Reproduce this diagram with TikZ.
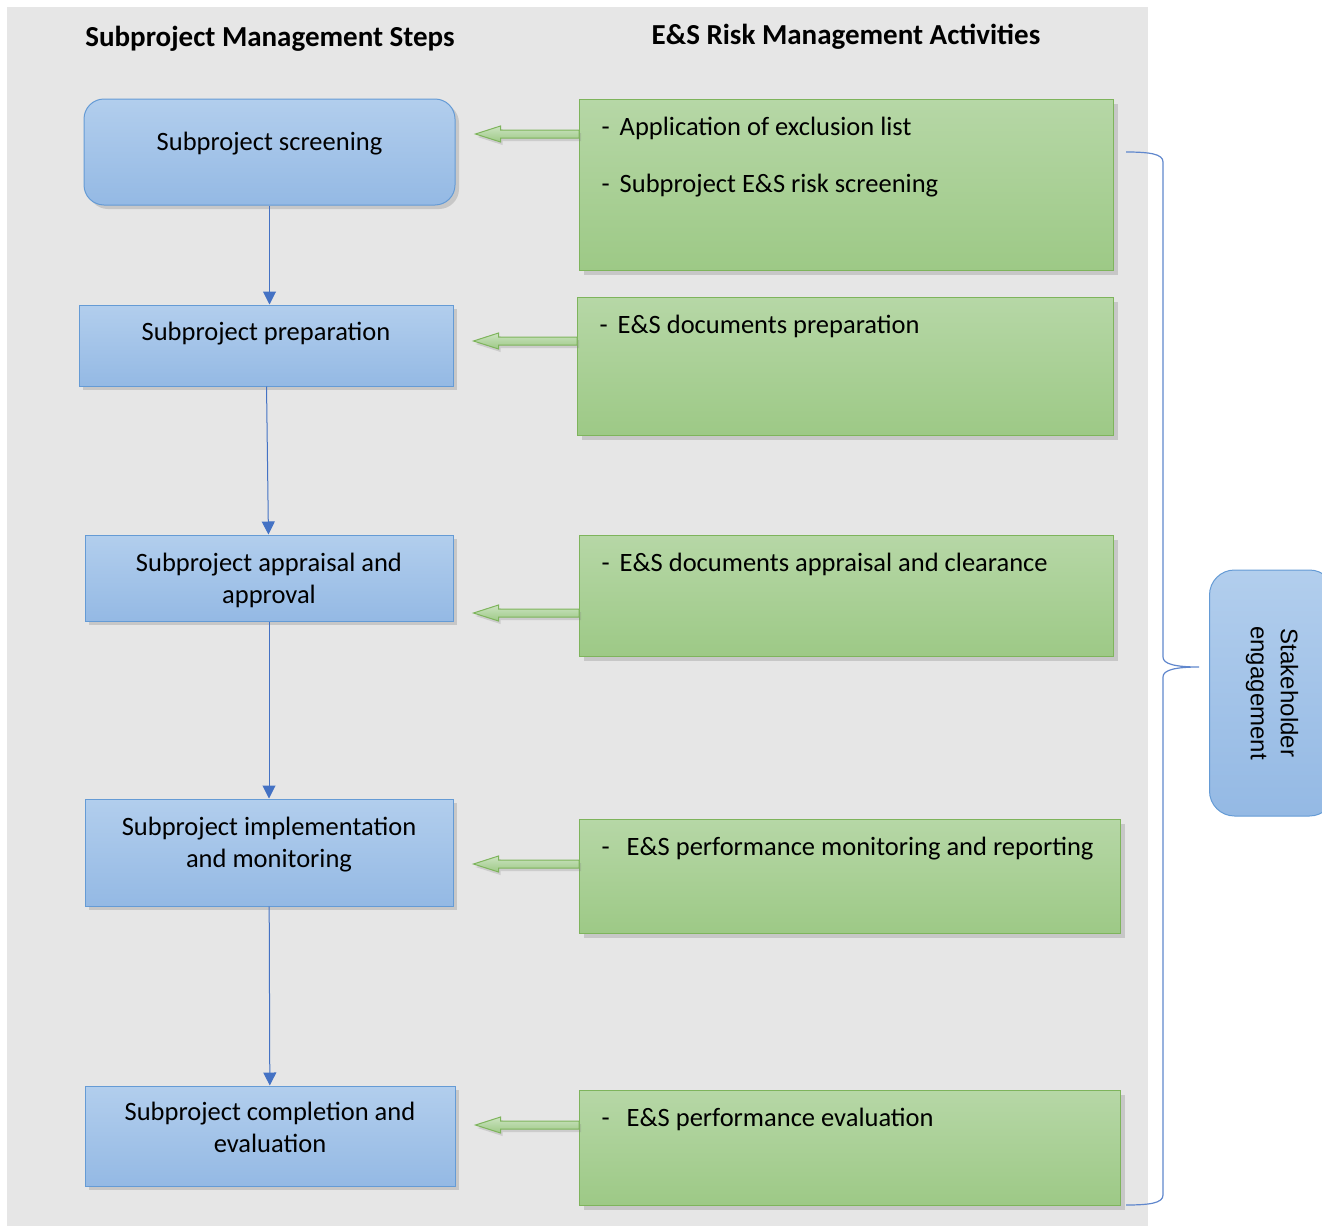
\documentclass[tikz,border=0pt]{standalone}
\usepackage{fontspec}
\setmainfont{Carlito}
\newfontfamily\arialfont{Liberation Sans}
\usetikzlibrary{calc,shadows,arrows.meta}

\definecolor{bgray}{RGB}{230,230,230}
\definecolor{steptop}{RGB}{178,206,237}
\definecolor{stepbot}{RGB}{148,185,228}
\definecolor{stepline}{RGB}{101,155,213}
\definecolor{acttop}{RGB}{182,215,166}
\definecolor{actbot}{RGB}{157,201,134}
\definecolor{actline}{RGB}{126,180,92}
\definecolor{linkblue}{RGB}{68,114,196}

% one line of an activity list
\newcommand\actitem[2][10pt]{\strut\hspace*{22pt}-\hspace{#1}#2\par}
% block arrow from an activity box to its step box
\newcommand\feed[3]{%
  \draw[feedarrow] ($(#1.west |- 0,#3)+(0,4)$) -- ($(#2.east |- 0,#3)+(45,4)$)
    -- ++(0,4) -- ($(#2.east |- 0,#3)+(20,0)$) -- ++(25,-8) -- ++(0,4)
    -- ($(#1.west |- 0,#3)+(0,-4)$) -- cycle;}

\begin{document}
\begin{tikzpicture}[x=1pt,y=1pt,
    stepbox/.style={draw=stepline, line width=1pt, top color=steptop, bottom color=stepbot,
      align=center, font=\fontsize{26.5}{32}\selectfont,
      drop shadow={shadow xshift=4pt, shadow yshift=-4pt, opacity=0.3}},
    actbox/.style={draw=actline, line width=1.2pt, top color=acttop, bottom color=actbot,
      anchor=north west, inner sep=0pt, font=\fontsize{26.5}{32}\selectfont,
      drop shadow={shadow xshift=4pt, shadow yshift=-4pt, opacity=0.3}},
    feedarrow/.style={draw=actline, line width=1pt, top color=acttop!70!white, bottom color=actbot,
      drop shadow={shadow xshift=2pt, shadow yshift=-3pt, opacity=0.25}},
    flow/.style={draw=linkblue, line width=1pt, -{Triangle[length=13pt,width=13pt]}},
    title/.style={font=\fontsize{29}{35}\selectfont\bfseries}]
  \useasboundingbox (0,0) rectangle (1322,-1226);
  \fill[bgray] (7,-7) rectangle (1148,-1226);

  \node[title] (t1) at (270,-39) {Subproject Management Steps};
  \node[title] (t2) at (846,-37) {E\&S Risk Management Activities};

  % activity boxes
  \node[actbox] (a1) at (579,-99) {\parbox[t][171pt][t]{534pt}{\vspace*{13pt}%
    \actitem{Application of exclusion list}\vspace{25pt}\actitem{Subproject E\&S risk screening}}};
  \node[actbox] (a2) at (577,-297) {\parbox[t][138pt][t]{536pt}{\vspace*{13pt}%
    \actitem{E\&S documents preparation}}};
  \node[actbox] (a3) at (579,-535) {\parbox[t][121pt][t]{534pt}{\vspace*{13pt}%
    \actitem{E\&S documents appraisal and clearance}}};
  \node[actbox] (a4) at (579,-819) {\parbox[t][114pt][t]{541pt}{\vspace*{13pt}%
    \actitem[17pt]{E\&S performance monitoring and reporting}}};
  \node[actbox] (a5) at (579,-1090) {\parbox[t][115pt][t]{541pt}{\vspace*{13pt}%
    \actitem[17pt]{E\&S performance evaluation}}};

  % management steps
  \node[stepbox, rounded corners=20pt, minimum width=371pt, minimum height=106pt, text depth=22pt] (s1) at (269.5,-152) {Subproject screening};
  \node[stepbox, minimum width=374pt, minimum height=81pt, text depth=28pt] (s2) at (266,-345.5) {Subproject preparation};
  \node[stepbox, minimum width=368pt, minimum height=86pt, text depth=0pt] (s3) at (269,-578) {Subproject appraisal and\\approval};
  \node[stepbox, minimum width=368pt, minimum height=107pt, text depth=20pt] (s4) at (269,-852.5) {Subproject implementation\\and monitoring};
  \node[stepbox, minimum width=370pt, minimum height=100pt, text depth=18pt] (s5) at (270,-1136) {Subproject completion and\\evaluation};

  \draw[flow] (s1) -- (s1 |- s2.north);
  \draw[flow] (s2) -- (s3);
  \draw[flow] (s3) -- (s4);
  \draw[flow] (s4) -- (s5);

  \feed{a1}{s1}{-134}
  \feed{a2}{s2}{-341}
  \feed{a3}{s3}{-613}
  \feed{a4}{s4}{-864}
  \feed{a5}{s5}{-1125}

  % brace and stakeholder box
  \draw[linkblue!85!white, line width=1.2pt] (1126,-152) .. controls (1150,-152) and (1163,-154) .. (1163,-162)
    -- (1163,-657) .. controls (1163,-664) and (1175,-667) .. (1199,-667)
    .. controls (1175,-667) and (1163,-670) .. (1163,-677)
    -- (1163,-1195) .. controls (1163,-1203) and (1150,-1205) .. (1126,-1205);
  \node[rotate=-90, draw=stepline, line width=1pt, rounded corners=25pt, top color=steptop, bottom color=stepbot,
    minimum width=246pt, minimum height=125pt, align=center,
    font=\arialfont\fontsize{24}{30}\selectfont] (se) at (1272,-693) {Stakeholder\\engagement};
\end{tikzpicture}
\end{document}
